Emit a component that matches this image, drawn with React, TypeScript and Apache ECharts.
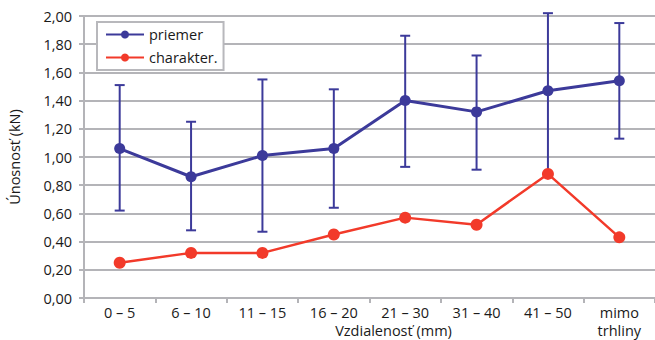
import React, { useEffect, useRef } from "react";
import * as echarts from "echarts";

// Distance bands from the crack (mm)
const categories = ["0 – 5", "6 – 10", "11 – 15", "16 – 20", "21 – 30", "31 – 40", "41 – 50", "mimo\ntrhliny"];
// Mean load capacity (kN)
const priemer = [1.06, 0.86, 1.01, 1.06, 1.40, 1.32, 1.47, 1.54];
// Error bar limits for the mean
const errLow = [0.62, 0.48, 0.47, 0.64, 0.93, 0.91, 0.89, 1.13];
const errHigh = [1.51, 1.25, 1.55, 1.48, 1.86, 1.72, 2.02, 1.95];
// Characteristic load capacity (kN)
const charakter = [0.25, 0.32, 0.32, 0.45, 0.57, 0.52, 0.88, 0.43];

const yTicks = [0, 0.2, 0.4, 0.6, 0.8, 1.0, 1.2, 1.4, 1.6, 1.8, 2.0];

const BLUE = "#3c3a9a";
const RED = "#f23a2a";
const GRID = "#b4b4b8";
const FONT = "'Open Sans', 'Noto Sans', sans-serif";
const FS = 14.5;

export default function App() {
  const ref = useRef<HTMLDivElement>(null);

  useEffect(() => {
    if (!ref.current) return;
    const chart = echarts.init(ref.current, null, { renderer: "svg" });
    const errData = categories.map((_, i) => [i, errLow[i], errHigh[i]]);

    chart.setOption({
      animation: false,
      backgroundColor: "#ffffff",
      textStyle: { fontFamily: FONT },
      grid: { left: 84, right: 0, top: 16, bottom: 42, containLabel: false, outerBoundsMode: "none" },
      legend: {
        left: 97,
        top: 22,
        orient: "vertical",
        itemWidth: 38,
        itemHeight: 10,
        itemGap: 8,
        padding: [5, 6, 5, 8],
        backgroundColor: "#ffffff",
        borderColor: "#b8b8bc",
        borderWidth: 2,
        textStyle: { fontSize: FS, color: "#1a1a1a", fontFamily: FONT },
        data: ["priemer", "charakter."],
      },
      xAxis: {
        type: "category",
        data: categories,
        boundaryGap: true,
        name: "Vzdialenosť (mm)",
        nameLocation: "middle",
        nameGap: 24,
        nameMoveOverlap: false,
        nameTextStyle: {
          fontSize: FS,
          color: "#1a1a1a",
          fontFamily: FONT,
          lineHeight: 16,
          padding: [0, 0, 0, 48],
        },
        axisLine: { show: true, lineStyle: { color: GRID, width: 2 } },
        axisTick: { show: true, length: 5, lineStyle: { color: GRID, width: 2 } },
        axisLabel: { fontSize: FS, color: "#1a1a1a", margin: 5, lineHeight: 18, fontFamily: FONT },
        splitLine: { show: false },
      },
      yAxis: {
        type: "value",
        min: 0,
        max: 2,
        interval: 0.2,
        name: "Únosnosť (kN)",
        nameLocation: "middle",
        nameRotate: 90,
        nameGap: 62,
        nameTextStyle: { fontSize: FS, color: "#1a1a1a", fontFamily: FONT },
        axisLine: { show: true, lineStyle: { color: GRID, width: 2 } },
        axisTick: { show: true, length: 5, lineStyle: { color: GRID, width: 2 } },
        axisLabel: {
          fontSize: FS,
          color: "#1a1a1a",
          margin: 12,
          fontFamily: FONT,
          formatter: (v: number) => {
            const t = yTicks.find((y) => Math.abs(y - v) < 1e-6);
            return (t ?? v).toFixed(2).replace(".", ",");
          },
        },
        splitLine: { show: true, lineStyle: { color: GRID, width: 2 } },
      },
      series: [
        {
          name: "errorbars",
          type: "custom",
          clip: false,
          z: 2,
          data: errData,
          renderItem: (params: any, api: any) => {
            const x = api.value(0);
            const lo = api.coord([x, api.value(1)]);
            const hi = api.coord([x, api.value(2)]);
            const cap = 5;
            const style = { stroke: BLUE, lineWidth: 2 };
            return {
              type: "group",
              children: [
                { type: "line", shape: { x1: lo[0], y1: lo[1], x2: hi[0], y2: hi[1] }, style },
                { type: "line", shape: { x1: lo[0] - cap, y1: lo[1], x2: lo[0] + cap, y2: lo[1] }, style },
                { type: "line", shape: { x1: hi[0] - cap, y1: hi[1], x2: hi[0] + cap, y2: hi[1] }, style },
              ],
            };
          },
        },
        {
          name: "priemer",
          type: "line",
          z: 3,
          data: priemer,
          symbol: "circle",
          symbolSize: 11,
          itemStyle: { color: BLUE },
          lineStyle: { color: BLUE, width: 3 },
        },
        {
          name: "charakter.",
          type: "line",
          z: 4,
          data: charakter,
          symbol: "circle",
          symbolSize: 12,
          itemStyle: { color: RED },
          lineStyle: { color: RED, width: 2.5 },
        },
      ],
    });

    return () => chart.dispose();
  }, []);

  return (
    <div
      ref={ref}
      style={{ position: "fixed", left: 0, top: 0, width: 655, height: 340, background: "#fff" }}
    />
  );
}
